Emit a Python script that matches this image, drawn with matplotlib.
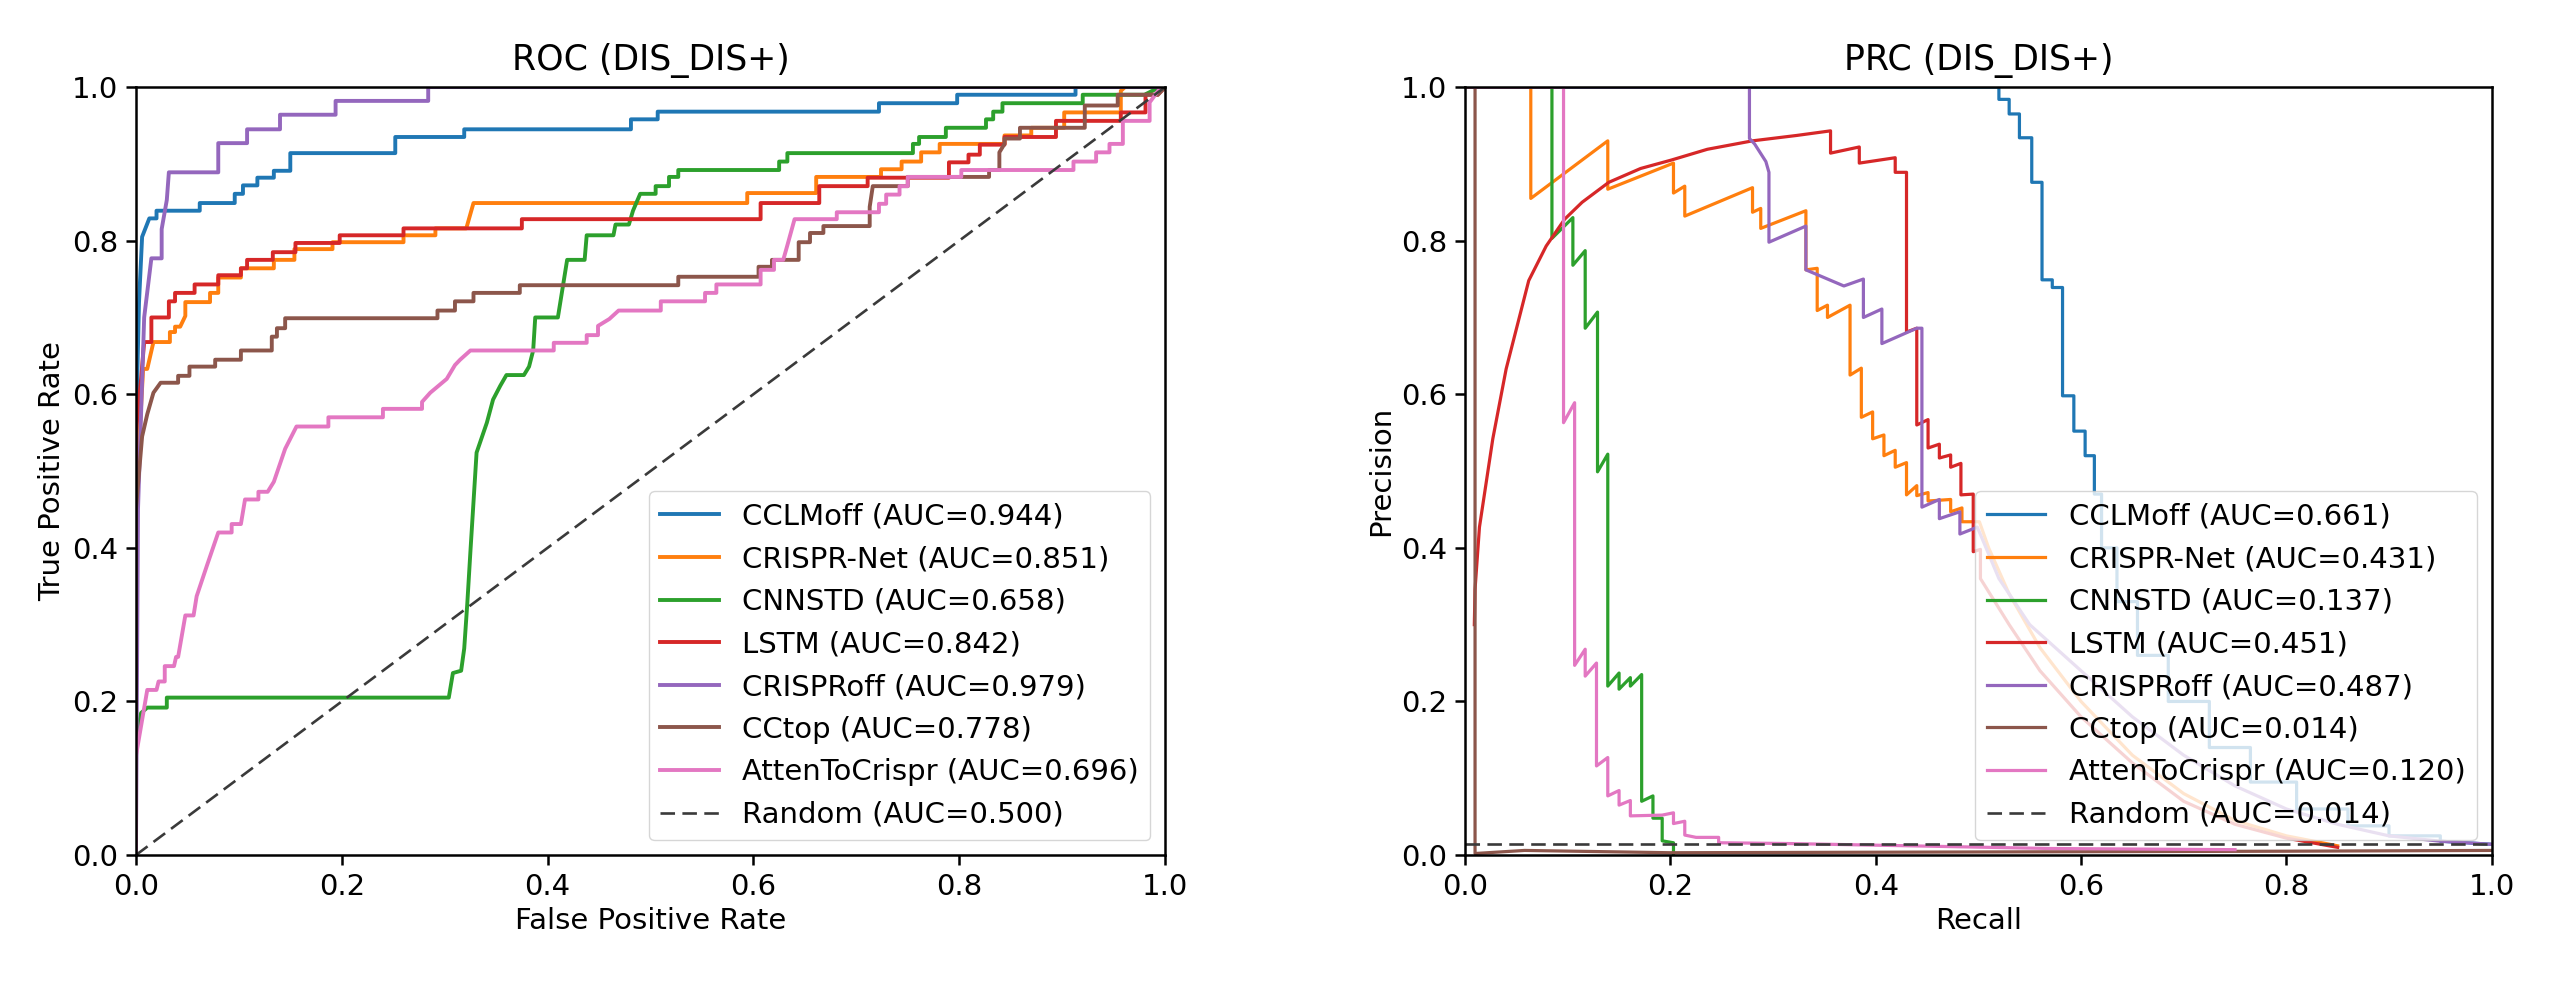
import matplotlib
matplotlib.use("Agg")
import matplotlib.pyplot as plt

# ---------------- data ----------------
model_names = ["CCLMoff", "CRISPR-Net", "CNNSTD", "LSTM", "CRISPRoff", "CCtop", "AttenToCrispr"]
model_colors = ["#1f77b4", "#ff7f0e", "#2ca02c", "#d62728", "#9467bd", "#8c564b", "#e377c2"]
roc_auc = [0.944, 0.851, 0.658, 0.842, 0.979, 0.778, 0.696]
prc_auc = [0.661, 0.431, 0.137, 0.451, 0.487, 0.014, 0.120]
random_roc_auc = 0.500
random_prc_auc = 0.014

# ROC curves
roc_fpr_cclmoff = [0, 0, 0.003, 0.006, 0.013, 0.020, 0.020, 0.062, 0.062, 0.096, 0.096, 0.104, 0.104,
                   0.118, 0.118, 0.134, 0.134, 0.150, 0.150, 0.252, 0.252, 0.319, 0.319, 0.481, 0.481,
                   0.507, 0.507, 0.722, 0.722, 0.798, 0.798, 0.913, 0.913, 1.0]
roc_tpr_cclmoff = [0, 0.55, 0.72, 0.805, 0.829, 0.829, 0.839, 0.839, 0.849, 0.849, 0.861, 0.861, 0.872,
                   0.872, 0.882, 0.882, 0.891, 0.891, 0.914, 0.914, 0.935, 0.935, 0.945, 0.945, 0.958,
                   0.958, 0.968, 0.968, 0.979, 0.979, 0.990, 0.990, 1.0, 1.0]

roc_fpr_crisprnet = [0, 0, 0.004, 0.007, 0.011, 0.017, 0.033, 0.033, 0.038, 0.038, 0.043, 0.048, 0.048,
                     0.072, 0.072, 0.080, 0.080, 0.102, 0.102, 0.134, 0.134, 0.154, 0.154, 0.191, 0.191,
                     0.260, 0.260, 0.291, 0.291, 0.321, 0.328, 0.594, 0.594, 0.661, 0.661, 0.724, 0.724,
                     0.744, 0.744, 0.763, 0.763, 0.781, 0.781, 0.844, 0.844, 0.870, 0.870, 0.902, 0.902,
                     0.957, 0.957, 0.961, 1.0]
roc_tpr_crisprnet = [0, 0.45, 0.56, 0.633, 0.633, 0.668, 0.668, 0.681, 0.681, 0.688, 0.688, 0.702, 0.720,
                     0.720, 0.732, 0.732, 0.752, 0.752, 0.764, 0.764, 0.775, 0.775, 0.789, 0.789, 0.798,
                     0.798, 0.807, 0.807, 0.816, 0.816, 0.849, 0.849, 0.862, 0.862, 0.883, 0.883, 0.893,
                     0.893, 0.903, 0.903, 0.915, 0.915, 0.926, 0.926, 0.937, 0.937, 0.947, 0.947, 0.967,
                     0.967, 0.995, 1.0, 1.0]

roc_fpr_cnnstd = [0, 0, 0.005, 0.011, 0.030, 0.030, 0.304, 0.308, 0.316, 0.319, 0.322, 0.325, 0.331,
                  0.341, 0.347, 0.354, 0.360, 0.377, 0.382, 0.386, 0.388, 0.410, 0.419, 0.436, 0.438,
                  0.464, 0.466, 0.479, 0.483, 0.490, 0.505, 0.505, 0.518, 0.518, 0.527, 0.527, 0.540,
                  0.625, 0.625, 0.633, 0.633, 0.755, 0.755, 0.761, 0.761, 0.787, 0.787, 0.826, 0.826,
                  0.833, 0.833, 0.842, 0.842, 0.920, 0.920, 0.980, 0.995, 1.0]
roc_tpr_cnnstd = [0, 0.15, 0.185, 0.192, 0.192, 0.205, 0.205, 0.237, 0.240, 0.269, 0.328, 0.395, 0.524,
                  0.563, 0.593, 0.611, 0.625, 0.625, 0.636, 0.657, 0.700, 0.700, 0.775, 0.775, 0.807,
                  0.807, 0.821, 0.821, 0.839, 0.861, 0.861, 0.871, 0.871, 0.883, 0.883, 0.892, 0.892,
                  0.892, 0.903, 0.903, 0.914, 0.914, 0.926, 0.926, 0.935, 0.935, 0.947, 0.947, 0.958,
                  0.958, 0.968, 0.968, 0.979, 0.979, 0.990, 0.990, 1.0, 1.0]

roc_fpr_lstm = [0, 0, 0.005, 0.008, 0.015, 0.015, 0.032, 0.032, 0.038, 0.038, 0.057, 0.057, 0.080, 0.080,
                0.102, 0.102, 0.108, 0.108, 0.133, 0.133, 0.155, 0.155, 0.198, 0.198, 0.260, 0.260,
                0.375, 0.375, 0.607, 0.607, 0.664, 0.664, 0.711, 0.711, 0.790, 0.790, 0.809, 0.809,
                0.820, 0.820, 0.844, 0.844, 0.894, 0.894, 0.957, 0.957, 0.981, 0.981, 0.993, 1.0]
roc_tpr_lstm = [0, 0.55, 0.62, 0.668, 0.668, 0.700, 0.700, 0.721, 0.721, 0.732, 0.732, 0.743, 0.743, 0.755,
                0.755, 0.764, 0.764, 0.775, 0.775, 0.785, 0.785, 0.797, 0.797, 0.807, 0.807, 0.816,
                0.816, 0.828, 0.828, 0.849, 0.849, 0.871, 0.871, 0.882, 0.882, 0.902, 0.902, 0.912,
                0.912, 0.925, 0.925, 0.935, 0.935, 0.956, 0.956, 0.967, 0.967, 0.990, 0.990, 1.0]

roc_fpr_crisproff = [0, 0.002, 0.008, 0.015, 0.025, 0.025, 0.030, 0.032, 0.080, 0.080, 0.108, 0.108,
                     0.140, 0.140, 0.194, 0.194, 0.284, 0.284, 1.0]
roc_tpr_crisproff = [0, 0.45, 0.70, 0.777, 0.777, 0.815, 0.853, 0.889, 0.889, 0.927, 0.927, 0.945,
                     0.945, 0.964, 0.964, 0.982, 0.982, 1.0, 1.0]

roc_fpr_cctop = [0, 0, 0.006, 0.011, 0.017, 0.024, 0.041, 0.041, 0.052, 0.052, 0.077, 0.077, 0.102, 0.102,
                 0.132, 0.132, 0.137, 0.137, 0.145, 0.145, 0.293, 0.293, 0.310, 0.310, 0.328, 0.328,
                 0.373, 0.373, 0.527, 0.527, 0.605, 0.605, 0.618, 0.618, 0.644, 0.644, 0.655, 0.655,
                 0.668, 0.668, 0.713, 0.713, 0.716, 0.750, 0.750, 0.829, 0.829, 0.839, 0.839, 0.844,
                 0.844, 0.859, 0.859, 0.922, 0.922, 0.954, 0.954, 0.993, 1.0]
roc_tpr_cctop = [0, 0.45, 0.545, 0.574, 0.602, 0.615, 0.615, 0.624, 0.624, 0.636, 0.636, 0.645, 0.645, 0.657,
                 0.657, 0.675, 0.675, 0.686, 0.686, 0.699, 0.699, 0.709, 0.709, 0.721, 0.721, 0.732,
                 0.732, 0.742, 0.742, 0.753, 0.753, 0.766, 0.766, 0.775, 0.775, 0.798, 0.798, 0.810,
                 0.810, 0.819, 0.819, 0.844, 0.871, 0.871, 0.883, 0.883, 0.892, 0.892, 0.915, 0.926,
                 0.933, 0.933, 0.947, 0.947, 0.976, 0.976, 0.990, 0.990, 1.0]

roc_fpr_atten = [0, 0, 0.011, 0.020, 0.022, 0.028, 0.028, 0.037, 0.039, 0.041, 0.048, 0.056, 0.059, 0.069,
                 0.080, 0.093, 0.093, 0.102, 0.106, 0.119, 0.119, 0.128, 0.134, 0.145, 0.156, 0.187,
                 0.187, 0.240, 0.240, 0.278, 0.278, 0.286, 0.302, 0.310, 0.315, 0.325, 0.406, 0.406,
                 0.438, 0.438, 0.449, 0.449, 0.460, 0.469, 0.510, 0.510, 0.553, 0.553, 0.564, 0.564,
                 0.607, 0.607, 0.620, 0.620, 0.629, 0.633, 0.640, 0.681, 0.681, 0.722, 0.722, 0.729,
                 0.729, 0.742, 0.742, 0.750, 0.750, 0.802, 0.802, 0.911, 0.911, 0.933, 0.933, 0.946,
                 0.946, 0.959, 0.959, 0.985, 0.985, 0.996, 1.0]
roc_tpr_atten = [0, 0.129, 0.215, 0.215, 0.226, 0.226, 0.246, 0.246, 0.258, 0.258, 0.312, 0.312, 0.337, 0.377,
                 0.420, 0.420, 0.431, 0.431, 0.463, 0.463, 0.473, 0.473, 0.486, 0.529, 0.558, 0.558,
                 0.570, 0.570, 0.581, 0.581, 0.590, 0.602, 0.620, 0.638, 0.645, 0.657, 0.657, 0.667,
                 0.667, 0.677, 0.677, 0.689, 0.698, 0.709, 0.709, 0.721, 0.721, 0.732, 0.732, 0.743,
                 0.743, 0.762, 0.762, 0.775, 0.775, 0.794, 0.828, 0.828, 0.837, 0.837, 0.848, 0.848,
                 0.860, 0.860, 0.871, 0.871, 0.883, 0.883, 0.892, 0.892, 0.903, 0.903, 0.915, 0.915,
                 0.926, 0.926, 0.956, 0.956, 0.980, 1.0, 1.0]

# PRC curves
prc_rec_cclmoff = [0, 0.520, 0.520, 0.530, 0.530, 0.540, 0.540, 0.552, 0.552, 0.562, 0.562, 0.572, 0.572,
                   0.582, 0.582, 0.593, 0.593, 0.604, 0.604, 0.613, 0.613, 0.620, 0.620, 0.635, 0.635,
                   0.655, 0.655, 0.685, 0.685, 0.725, 0.725, 0.765, 0.765, 0.810, 0.810, 0.860, 0.860,
                   0.900, 0.900, 0.950, 0.950, 1.0]
prc_pre_cclmoff = [1.0, 1.0, 0.984, 0.984, 0.965, 0.965, 0.934, 0.934, 0.876, 0.876, 0.749, 0.749, 0.739,
                   0.739, 0.598, 0.598, 0.552, 0.552, 0.520, 0.520, 0.470, 0.470, 0.400, 0.400, 0.330,
                   0.330, 0.260, 0.260, 0.200, 0.200, 0.140, 0.140, 0.095, 0.095, 0.060, 0.060, 0.038,
                   0.038, 0.025, 0.025, 0.018, 0.014]

prc_rec_crisprnet = [0, 0.064, 0.064, 0.139, 0.139, 0.203, 0.203, 0.214, 0.214, 0.280, 0.280, 0.288, 0.288,
                     0.332, 0.332, 0.343, 0.343, 0.353, 0.353, 0.375, 0.375, 0.386, 0.386, 0.397, 0.397,
                     0.408, 0.408, 0.419, 0.419, 0.430, 0.430, 0.440, 0.440, 0.451, 0.451, 0.473, 0.473,
                     0.484, 0.484, 0.501, 0.510, 0.530, 0.560, 0.600, 0.650, 0.700, 0.750, 0.800, 0.850]
prc_pre_crisprnet = [1.0, 1.0, 0.855, 0.930, 0.867, 0.901, 0.862, 0.871, 0.832, 0.869, 0.837, 0.842, 0.816,
                     0.839, 0.762, 0.764, 0.709, 0.716, 0.700, 0.716, 0.625, 0.634, 0.570, 0.577, 0.542,
                     0.547, 0.520, 0.527, 0.505, 0.511, 0.469, 0.481, 0.468, 0.472, 0.461, 0.463, 0.447,
                     0.452, 0.434, 0.434, 0.400, 0.340, 0.270, 0.200, 0.130, 0.080, 0.045, 0.025, 0.012]

prc_rec_cnnstd = [0, 0.0846, 0.0846, 0.105, 0.105, 0.117, 0.117, 0.129, 0.129, 0.139, 0.139, 0.150, 0.150,
                  0.161, 0.161, 0.172, 0.172, 0.183, 0.183, 0.192, 0.192, 0.203, 0.203]
prc_pre_cnnstd = [1.0, 1.0, 0.803, 0.830, 0.768, 0.787, 0.686, 0.707, 0.499, 0.522, 0.220, 0.237, 0.216,
                  0.231, 0.220, 0.235, 0.070, 0.077, 0.048, 0.048, 0.0185, 0.016, 0.002]

prc_rec_lstm = [0.009, 0.0097, 0.014, 0.027, 0.040, 0.062, 0.079, 0.097, 0.114, 0.140, 0.171, 0.201, 0.236,
                0.280, 0.323, 0.356, 0.356, 0.384, 0.384, 0.419, 0.419, 0.430, 0.430, 0.440, 0.440,
                0.451, 0.451, 0.462, 0.462, 0.473, 0.473, 0.483, 0.483, 0.495, 0.495, 0.502, 0.502,
                0.530, 0.560, 0.600, 0.650, 0.700, 0.750, 0.800, 0.850]
prc_pre_lstm = [0.30, 0.346, 0.427, 0.542, 0.633, 0.748, 0.793, 0.828, 0.850, 0.876, 0.894, 0.905, 0.919,
                0.930, 0.937, 0.943, 0.914, 0.922, 0.901, 0.908, 0.889, 0.889, 0.681, 0.686, 0.560,
                0.567, 0.530, 0.535, 0.517, 0.521, 0.505, 0.510, 0.469, 0.470, 0.395, 0.398, 0.360,
                0.300, 0.240, 0.180, 0.120, 0.070, 0.040, 0.022, 0.010]

prc_rec_crisproff = [0, 0.277, 0.277, 0.282, 0.293, 0.296, 0.296, 0.332, 0.332, 0.369, 0.388, 0.388, 0.406,
                     0.406, 0.440, 0.445, 0.445, 0.462, 0.462, 0.482, 0.482, 0.499, 0.520, 0.550, 0.600,
                     0.650, 0.700, 0.750, 0.800, 0.850, 0.900, 0.950, 1.0]
prc_pre_crisproff = [1.0, 1.0, 0.933, 0.926, 0.903, 0.889, 0.798, 0.819, 0.762, 0.741, 0.750, 0.700, 0.711,
                     0.666, 0.686, 0.686, 0.453, 0.463, 0.438, 0.447, 0.418, 0.427, 0.360, 0.300, 0.240,
                     0.180, 0.130, 0.090, 0.060, 0.040, 0.025, 0.018, 0.014]

prc_rec_cctop = [0, 0.0097, 0.0097, 0.058, 0.200, 0.500, 0.800, 1.0]
prc_pre_cctop = [1.0, 1.0, 0.002, 0.006, 0.003, 0.004, 0.005, 0.006]

prc_rec_atten = [0, 0.0959, 0.0959, 0.1067, 0.1067, 0.117, 0.117, 0.128, 0.128, 0.139, 0.139, 0.150, 0.150,
                 0.161, 0.161, 0.192, 0.203, 0.203, 0.214, 0.214, 0.225, 0.247, 0.247, 0.314, 0.410,
                 0.570, 0.750]
prc_pre_atten = [1.0, 1.0, 0.563, 0.589, 0.247, 0.268, 0.233, 0.250, 0.116, 0.127, 0.077, 0.084, 0.065,
                 0.071, 0.051, 0.052, 0.055, 0.041, 0.044, 0.026, 0.023, 0.023, 0.016, 0.015, 0.0126,
                 0.0085, 0.007]

roc_x = [roc_fpr_cclmoff, roc_fpr_crisprnet, roc_fpr_cnnstd, roc_fpr_lstm,
         roc_fpr_crisproff, roc_fpr_cctop, roc_fpr_atten]
roc_y = [roc_tpr_cclmoff, roc_tpr_crisprnet, roc_tpr_cnnstd, roc_tpr_lstm,
         roc_tpr_crisproff, roc_tpr_cctop, roc_tpr_atten]
prc_x = [prc_rec_cclmoff, prc_rec_crisprnet, prc_rec_cnnstd, prc_rec_lstm,
         prc_rec_crisproff, prc_rec_cctop, prc_rec_atten]
prc_y = [prc_pre_cclmoff, prc_pre_crisprnet, prc_pre_cnnstd, prc_pre_lstm,
         prc_pre_crisproff, prc_pre_cctop, prc_pre_atten]

# ---------------- plot ----------------
plt.rcParams.update({
    "font.family": "DejaVu Sans",
    "font.size": 21,
    "axes.linewidth": 1.8,
    "xtick.major.size": 7,
    "ytick.major.size": 7,
    "xtick.major.width": 1.8,
    "ytick.major.width": 1.8,
    "xtick.major.pad": 6,
    "ytick.major.pad": 6,
    "legend.fontsize": 21,
})

fig = plt.figure(figsize=(25.6, 9.94), dpi=100)
ax_roc = fig.add_axes([0.0531, 0.1398, 0.4020, 0.7726])
ax_prc = fig.add_axes([0.5723, 0.1398, 0.4010, 0.7726])

for i, name in enumerate(model_names):
    ax_roc.plot(roc_x[i], roc_y[i], color=model_colors[i], lw=2.8,
                label=f"{name} (AUC={roc_auc[i]:.3f})")
ax_roc.plot([0, 1], [0, 1], color="#3a3a3a", lw=1.9, linestyle=(0, (5.5, 2.8)),
            label=f"Random (AUC={random_roc_auc:.3f})")

for i, name in enumerate(model_names):
    ax_prc.plot(prc_x[i], prc_y[i], color=model_colors[i], lw=2.3,
                label=f"{name} (AUC={prc_auc[i]:.3f})")
ax_prc.plot([0, 1], [random_prc_auc, random_prc_auc], color="#3a3a3a", lw=1.9,
            linestyle=(0, (5.5, 2.8)), label=f"Random (AUC={random_prc_auc:.3f})")

for ax, title, xl, yl in [(ax_roc, "ROC (DIS_DIS+)", "False Positive Rate", "True Positive Rate"),
                          (ax_prc, "PRC (DIS_DIS+)", "Recall", "Precision")]:
    ax.set_xlim(0, 1)
    ax.set_ylim(0, 1)
    ax.set_xticks([0, 0.2, 0.4, 0.6, 0.8, 1.0])
    ax.set_yticks([0, 0.2, 0.4, 0.6, 0.8, 1.0])
    ax.set_title(title, fontsize=25, pad=12)
    ax.set_xlabel(xl, fontsize=21)
    ax.set_ylabel(yl, fontsize=21)
    ax.legend(loc="lower right", handlelength=2.0)

fig.savefig("out.png", dpi=100)
